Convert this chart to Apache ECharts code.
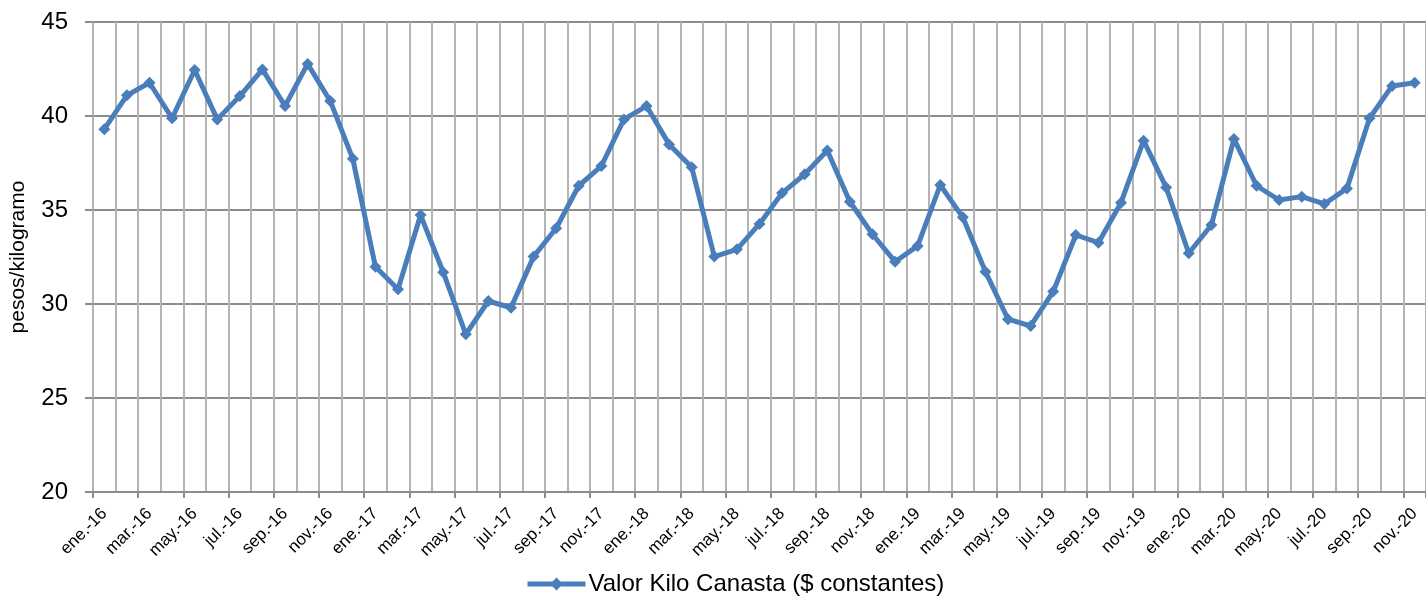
<!DOCTYPE html>
<html>
<head>
<meta charset="utf-8">
<script src="https://cdn.jsdelivr.net/npm/echarts@6/dist/echarts.min.js"></script>
<style>
html,body{margin:0;padding:0;background:#fff;}
#chart{width:1426px;height:598px;}
</style>
</head>
<body>
<div id="chart"></div>
<script>
const categories = [
  'ene.-16','feb.-16','mar.-16','abr.-16','may.-16','jun.-16','jul.-16','ago.-16','sep.-16','oct.-16','nov.-16','dic.-16',
  'ene.-17','feb.-17','mar.-17','abr.-17','may.-17','jun.-17','jul.-17','ago.-17','sep.-17','oct.-17','nov.-17','dic.-17',
  'ene.-18','feb.-18','mar.-18','abr.-18','may.-18','jun.-18','jul.-18','ago.-18','sep.-18','oct.-18','nov.-18','dic.-18',
  'ene.-19','feb.-19','mar.-19','abr.-19','may.-19','jun.-19','jul.-19','ago.-19','sep.-19','oct.-19','nov.-19','dic.-19',
  'ene.-20','feb.-20','mar.-20','abr.-20','may.-20','jun.-20','jul.-20','ago.-20','sep.-20','oct.-20','nov.-20'
];
const valorKiloCanasta = [
  39.3, 41.1, 41.77, 39.88, 42.45, 39.82, 41.06, 42.48, 40.53, 42.77, 40.8, 37.72,
  31.98, 30.78, 34.73, 31.69, 28.39, 30.16, 29.8, 32.52, 34.03, 36.29, 37.34, 39.82,
  40.53, 38.49, 37.27, 32.52, 32.91, 34.26, 35.9, 36.9, 38.16, 35.44, 33.71, 32.25,
  33.09, 36.33, 34.61, 31.72, 29.19, 28.83, 30.66, 33.67, 33.26, 35.39, 38.69, 36.2,
  32.7, 34.2, 38.78, 36.29, 35.53, 35.71, 35.32, 36.15, 39.88, 41.6, 41.77
];
const yMin = 20, yMax = 45, yStep = 5;
const seriesName = 'Valor Kilo Canasta ($ constantes)';
const yAxisName = 'pesos/kilogramo';

const FONT = 'Liberation Sans';
const BLUE = '#4a7ebb';
const chart = echarts.init(document.getElementById('chart'), null, {renderer:'canvas'});
chart.setOption({
  animation: false,
  backgroundColor: '#ffffff',
  grid: {left: 93, top: 22, width: 1340, height: 470, containLabel: false},
  legend: {
    show: true,
    top: 572,
    left: 525,
    padding: 0,
    data: [seriesName],
    itemWidth: 58,
    itemHeight: 16,
    itemGap: 4,
    lineStyle: {width: 5, color: BLUE},
    textStyle: {fontFamily: FONT, fontSize: 24, color: '#000', padding: [0, 0, 0, -2]}
  },
  xAxis: {
    type: 'category',
    data: categories,
    boundaryGap: true,
    axisLine: {show: true, lineStyle: {color: '#8c8c8c', width: 2}},
    axisTick: {show: true, interval: 1, length: 6, lineStyle: {color: '#8c8c8c', width: 2}},
    axisLabel: {interval: 1, rotate: 45, margin: 19, fontFamily: FONT, fontSize: 17, color: '#000'},
    splitLine: {show: true, interval: 0, lineStyle: {color: '#b4b4b4', width: 2}}
  },
  yAxis: {
    type: 'value',
    min: yMin, max: yMax, interval: yStep,
    name: yAxisName,
    nameLocation: 'middle',
    nameRotate: 90,
    nameGap: 64,
    nameTextStyle: {fontFamily: FONT, fontSize: 21, color: '#000'},
    axisLine: {show: false},
    axisTick: {show: true, length: 8, lineStyle: {color: '#8c8c8c', width: 2}},
    axisLabel: {margin: 25, fontFamily: FONT, fontSize: 24, color: '#000'},
    splitLine: {show: true, lineStyle: {color: '#8c8c8c', width: 2}}
  },
  series: [{
    name: seriesName,
    type: 'line',
    data: valorKiloCanasta,
    symbol: 'diamond',
    symbolSize: 12,
    showAllSymbol: true,
    lineStyle: {color: BLUE, width: 5},
    itemStyle: {color: BLUE},
    emphasis: {disabled: true}
  }]
});
</script>
</body>
</html>
